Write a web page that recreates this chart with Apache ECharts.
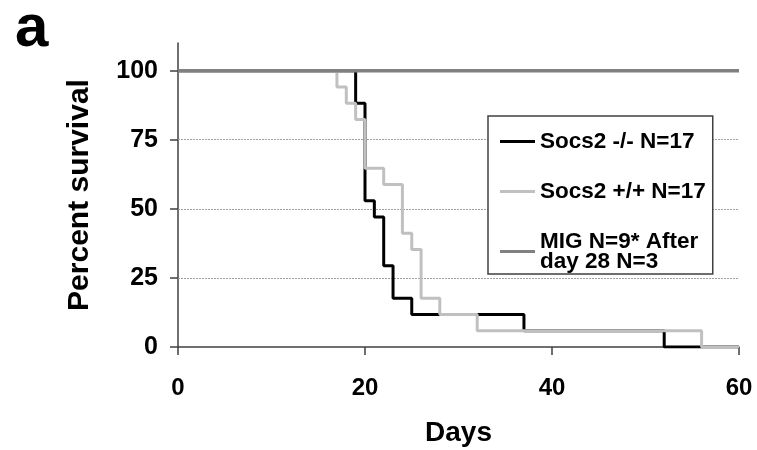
<!DOCTYPE html>
<html>
<head>
<meta charset="utf-8">
<script src="https://cdn.jsdelivr.net/npm/echarts@6/dist/echarts.min.js"></script>
<style>html,body{margin:0;padding:0;background:#fff}#c{width:757px;height:450px}</style>
</head>
<body>
<div id="c"></div>
<script>
// Days and percent survival (Kaplan-Meier steps)
const koDays   = [0, 19, 20, 21, 22, 23, 25, 37, 52, 60];
const koSurv   = [100, 88.24, 52.94, 47.06, 29.41, 17.65, 11.76, 5.88, 0, 0];
const wtDays   = [0, 17, 18, 19, 20, 22, 24, 25, 26, 28, 32, 56, 60];
const wtSurv   = [100, 94.12, 88.24, 82.35, 64.71, 58.82, 41.18, 35.29, 17.65, 11.76, 5.88, 0, 0];
const migDays  = [0, 60];
const migSurv  = [100, 100];
const seriesNames = ['Socs2 -/- N=17', 'Socs2 +/+ N=17', 'MIG N=9* After\nday 28 N=3'];
const yTicks = [0, 25, 50, 75, 100];
const gridVals = [25, 50, 75];

const FONT = '"Liberation Sans", Arial, sans-serif';
const pair = (xs, ys) => xs.map((x, i) => [x, ys[i]]);

const chart = echarts.init(document.getElementById('c'), null, {renderer: 'canvas'});
chart.setOption({
  animation: false,
  backgroundColor: '#fff',
  textStyle: {fontFamily: FONT},
  title: {
    text: 'a', left: 10, top: -6,
    textStyle: {fontFamily: FONT, fontWeight: 'bold', fontSize: 60, color: '#000'}
  },
  grid: {left: 178, right: 18, top: 43, bottom: 103, containLabel: false, outerBoundsMode: 'none'},
  legend: {
    orient: 'vertical',
    left: 488, top: 116,
    padding: [14, 7, 1, 12],
    itemGap: 27,
    itemWidth: 35, itemHeight: 3,
    icon: 'rect',
    borderColor: '#404040', borderWidth: 1.5,
    backgroundColor: '#fff',
    data: seriesNames,
    textStyle: {fontFamily: FONT, fontWeight: 'bold', fontSize: 22.5, color: '#000', lineHeight: 20}
  },
  xAxis: {
    type: 'value', min: 0, max: 60, interval: 20,
    name: 'Days', nameLocation: 'middle', nameGap: 72,
    nameTextStyle: {fontFamily: FONT, fontWeight: 'bold', fontSize: 28, color: '#000'},
    axisLine: {show: true, onZero: false, lineStyle: {color: '#404040', width: 1.5}},
    axisTick: {show: true, inside: false, length: 8, lineStyle: {color: '#404040', width: 1.5}},
    axisLabel: {margin: 29, fontFamily: FONT, fontWeight: 'bold', fontSize: 24, color: '#000'},
    splitLine: {show: false}
  },
  yAxis: {
    type: 'value', min: 0, max: 110, interval: 25,
    name: 'Percent survival', nameLocation: 'middle', nameGap: 83, nameRotate: 90,
    nameTextStyle: {fontFamily: FONT, fontWeight: 'bold', fontSize: 30, color: '#000'},
    axisLine: {show: true, onZero: false, lineStyle: {color: '#404040', width: 1.5}},
    axisTick: {show: true, length: 8, customValues: yTicks, lineStyle: {color: '#404040', width: 1.5}},
    axisLabel: {margin: 20, customValues: yTicks, fontFamily: FONT, fontWeight: 'bold', fontSize: 25, color: '#000'},
    splitLine: {show: false}
  },
  series: [
    {
      name: seriesNames[0], type: 'line', step: 'end', showSymbol: false, symbol: 'none',
      data: pair(koDays, koSurv),
      lineStyle: {color: '#000', width: 3}, itemStyle: {color: '#000'},
      markLine: {
        silent: true, symbol: 'none', label: {show: false},
        lineStyle: {color: '#a0a0a0', type: [2, 1], width: 1},
        data: gridVals.map(v => ({yAxis: v})),
        z: 1
      },
      z: 3
    },
    {
      name: seriesNames[1], type: 'line', step: 'end', showSymbol: false, symbol: 'none',
      data: pair(wtDays, wtSurv),
      lineStyle: {color: '#c0c0c0', width: 3}, itemStyle: {color: '#c0c0c0'},
      z: 4
    },
    {
      name: seriesNames[2], type: 'line', showSymbol: false, symbol: 'none',
      data: pair(migDays, migSurv),
      lineStyle: {color: '#808080', width: 3.5}, itemStyle: {color: '#808080'},
      z: 5
    }
  ]
});
</script>
</body>
</html>
